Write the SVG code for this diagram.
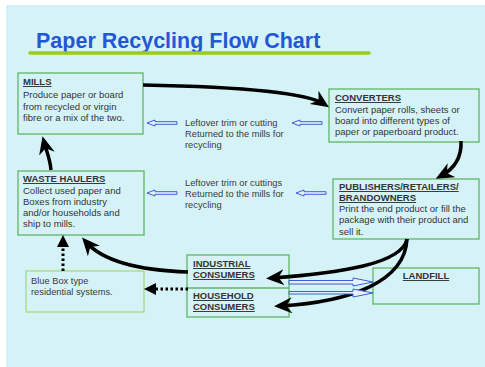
<svg xmlns="http://www.w3.org/2000/svg" width="485" height="367" viewBox="0 0 485 367">
  <style>
    .box { fill: none; stroke: #5fb664; stroke-width: 1.3; }
    .box-light { fill: none; stroke: #a8dc78; stroke-width: 1.3; }
    .t { font-family: "Liberation Sans", Arial, sans-serif; font-size: 9.5px; fill: #333333; }
    .h { font-family: "Liberation Sans", Arial, sans-serif; font-size: 9.5px; font-weight: bold; fill: #333333; text-decoration: underline; }
    .small { font-family: "Liberation Sans", Arial, sans-serif; font-size: 9.3px; fill: #3a3a3a; }
    .flow { fill: none; stroke: #000000; stroke-width: 3.5; stroke-linecap: butt; }
    .dot { fill: none; stroke: #000000; stroke-width: 3; stroke-dasharray: 2.5 2.5; }
    .hollow { fill: #e8f0ff; stroke: #3a5fd8; stroke-width: 1; }
  </style>
  <defs>
    <marker id="head" viewBox="0 0 18 16" refX="12" refY="8" markerWidth="18" markerHeight="16" markerUnits="userSpaceOnUse" orient="auto">
      <path d="M0,0 L18,8 L0,16 L5.5,8 Z" fill="#000000"/>
    </marker>
    <marker id="head-dot" viewBox="0 0 12 12" refX="6" refY="6" markerWidth="12" markerHeight="12" markerUnits="userSpaceOnUse" orient="auto">
      <path d="M0,0 L12,6 L0,12 Z" fill="#000000"/>
    </marker>
    <!-- outlined arrow pointing left, tip at origin -->
    <path id="back-arrow" d="M0,0 L8,-3 L8,-1.3 L30,-1.3 L30,1.3 L8,1.3 L8,3 Z"/>
  </defs>

  <rect x="0" y="0" width="485" height="367" fill="#ffffff"/>
  <rect x="6" y="5" width="479" height="362" fill="#d5f3f7"/>

  <!-- title -->
  <text x="36" y="48" font-family="'Liberation Sans', Arial, sans-serif" font-size="21.5" font-weight="bold" fill="#2457d6">Paper Recycling Flow Chart</text>
  <line x1="30" y1="53" x2="369" y2="53" stroke="#9acb1e" stroke-width="3.5" stroke-linecap="round"/>

  <g id="mills">
    <rect class="box" x="18" y="73" width="125" height="61"/>
    <text class="h" x="23" y="85">MILLS</text>
    <text class="t" x="23" y="98">Produce paper or board</text>
    <text class="t" x="23" y="110">from recycled or virgin</text>
    <text class="t" x="23" y="121">fibre or a mix of the two.</text>
  </g>

  <g id="converters">
    <rect class="box" x="329" y="89" width="150" height="53"/>
    <text class="h" x="335" y="101">CONVERTERS</text>
    <text class="t" x="335" y="113">Convert paper rolls, sheets or</text>
    <text class="t" x="335" y="124">board into different types of</text>
    <text class="t" x="335" y="135">paper or paperboard product.</text>
  </g>

  <g id="waste-haulers">
    <rect class="box" x="18" y="171" width="126" height="64"/>
    <text class="h" x="23" y="182">WASTE HAULERS</text>
    <text class="t" x="23" y="194">Collect used paper and</text>
    <text class="t" x="23" y="205">Boxes from industry</text>
    <text class="t" x="23" y="216">and/or households and</text>
    <text class="t" x="23" y="227">ship to mills.</text>
  </g>

  <g id="publishers">
    <rect class="box" x="333" y="179" width="146" height="60"/>
    <text class="h" x="339" y="190">PUBLISHERS/RETAILERS/</text>
    <text class="h" x="339" y="201">BRANDOWNERS</text>
    <text class="t" x="339" y="212">Print the end product or fill the</text>
    <text class="t" x="339" y="223">package with their product and</text>
    <text class="t" x="339" y="235">sell it.</text>
  </g>

  <g id="consumers">
    <rect class="box" x="187" y="255" width="102" height="62"/>
    <line class="box" x1="187" y1="288" x2="289" y2="288"/>
    <text class="h" x="193" y="267">INDUSTRIAL</text>
    <text class="h" x="193" y="278">CONSUMERS</text>
    <text class="h" x="193" y="299">HOUSEHOLD</text>
    <text class="h" x="193" y="310">CONSUMERS</text>
  </g>

  <g id="landfill">
    <rect class="box" x="373" y="268" width="106" height="36"/>
    <text class="h" x="426" y="279" text-anchor="middle">LANDFILL</text>
  </g>

  <g id="blue-box">
    <rect class="box-light" x="26" y="271" width="118" height="41"/>
    <text class="small" x="31" y="284">Blue Box type</text>
    <text class="small" x="31" y="295">residential systems.</text>
  </g>

  <g id="notes">
    <text class="small" x="185" y="126">Leftover trim or cutting</text>
    <text class="small" x="185" y="137">Returned to the mills for</text>
    <text class="small" x="185" y="148">recycling</text>
    <text class="small" x="185" y="186">Leftover trim or cuttings</text>
    <text class="small" x="185" y="197">Returned to the mills for</text>
    <text class="small" x="185" y="208">recycling</text>
  </g>

  <g id="connectors">
    <!-- main flow -->
    <path class="flow" d="M143,85 Q300,88 324,104" marker-end="url(#head)"/>
    <path class="flow" d="M461,141 C462,160 452,170 441,176" marker-end="url(#head)"/>
    <path class="flow" d="M407,239 C402,264 340,273 272,278" marker-end="url(#head)"/>
    <path class="flow" d="M407,239 C405,282 350,302 280,306" marker-end="url(#head)"/>
    <path class="flow" d="M188,272 C130,270 100,258 86,242" marker-end="url(#head)"/>
    <path class="flow" d="M51,170 C50,158 46,150 44,142" marker-end="url(#head)"/>

    <!-- collection routes -->
    <path class="dot" d="M63,271 L63,241" marker-end="url(#head-dot)"/>
    <path class="dot" d="M188,289 L150,289" marker-end="url(#head-dot)"/>

    <!-- trim returned to mills -->
    <use href="#back-arrow" class="hollow" x="147" y="123"/>
    <use href="#back-arrow" class="hollow" x="292" y="123"/>
    <use href="#back-arrow" class="hollow" x="147" y="193"/>
    <use href="#back-arrow" class="hollow" x="296" y="193"/>

    <!-- waste to landfill -->
    <path class="hollow" d="M373,282 L353,278 L353,280.5 L289,280.5 L289,284 L353,284 L353,286 Z"/>
    <path class="hollow" d="M373,293 L353,289 L353,291.5 L289,291.5 L289,294 L353,294 L353,297 Z"/>
  </g>
</svg>
